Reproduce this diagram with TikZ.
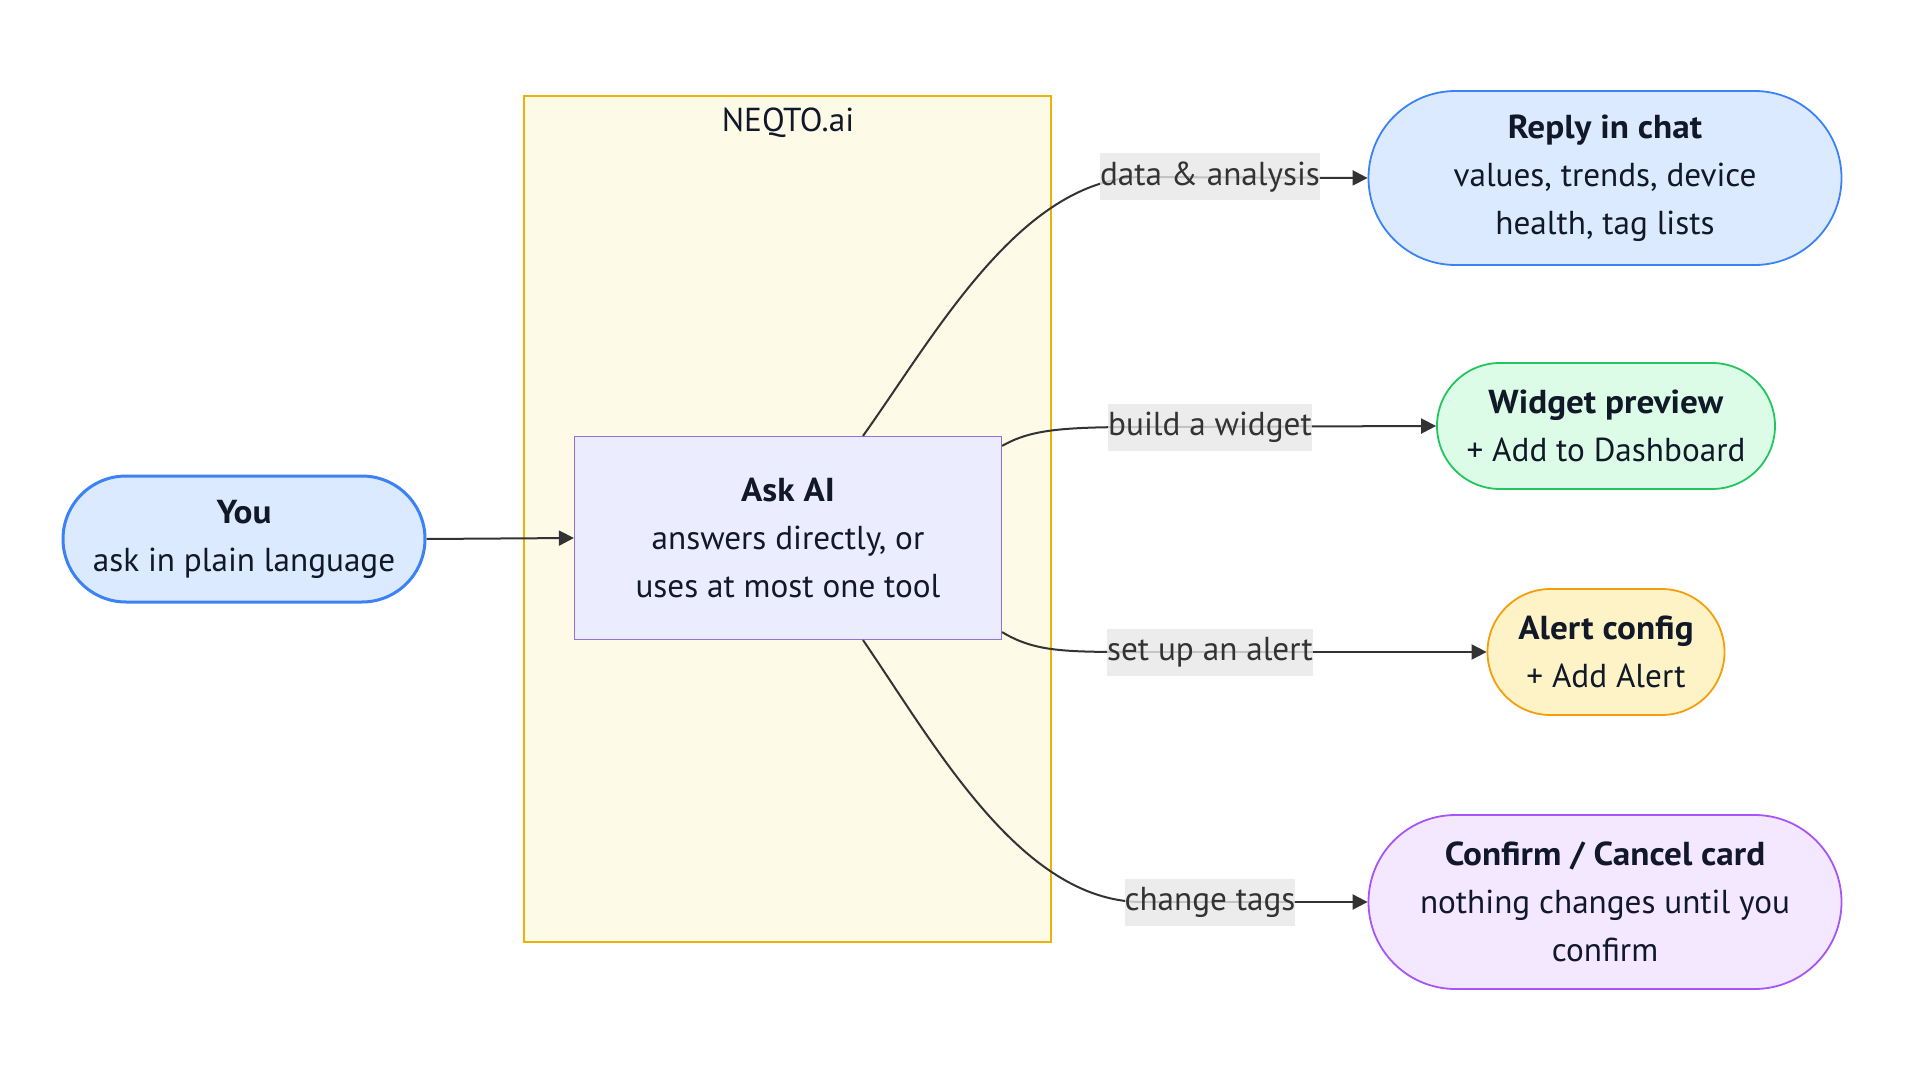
\documentclass[tikz,border=0pt]{standalone}
\usepackage{fontspec}
\setmainfont{PT Sans}[BoldFeatures={FakeStretch=1.06}]
\usetikzlibrary{arrows.meta}
\definecolor{ink}{HTML}{111827}
\definecolor{edgeink}{HTML}{333333}
\definecolor{blueFill}{HTML}{DBEAFE}
\definecolor{blueLine}{HTML}{3B82F6}
\definecolor{greenFill}{HTML}{DCFCE7}
\definecolor{greenLine}{HTML}{22C55E}
\definecolor{amberFill}{HTML}{FEF3C7}
\definecolor{amberLine}{HTML}{F59E0B}
\definecolor{violetFill}{HTML}{F3E8FF}
\definecolor{violetLine}{HTML}{A855F7}
\definecolor{askFill}{HTML}{ECECFF}
\definecolor{askLine}{HTML}{9370DB}
\definecolor{groupFill}{HTML}{FEFAE8}
\definecolor{groupLine}{HTML}{EAB308}
\definecolor{labelFill}{HTML}{E8E8E8}
\tikzset{
  txt/.style={font=\fontsize{16.6}{24}\selectfont, text=ink, align=center},
  stadium/.style={txt, inner sep=0pt, rounded corners=#1},
  askbox/.style={txt, draw=askLine, fill=askFill, line width=0.6pt, inner sep=0pt},
  edgelabel/.style={font=\fontsize{16.6}{24}\selectfont, text=edgeink, fill=labelFill,
    fill opacity=0.8, text opacity=1, inner xsep=0pt, inner ysep=0pt,
    minimum height=23.5pt},
  flow/.style={draw=edgeink, line width=1pt, -{Triangle[length=7.5pt,width=7.5pt]}},
  link/.style={draw=edgeink, line width=1pt},
}
\begin{document}
\begin{tikzpicture}[x=0.5pt, y=-0.5pt]
\useasboundingbox[fill=white] (0,0) rectangle (1908,1086);

% platform group
\draw[fill=groupFill, draw=groupLine, line width=1pt] (524,96) rectangle (1051,942);
\node[txt, anchor=center] (grouptitle) at (788,123) {NEQTO.ai};

% nodes
\node[stadium=31.5pt, draw=blueLine, fill=blueFill, line width=1.5pt,
  minimum width=181pt, minimum height=63pt] (you) at (244,539)
  {\textbf{You}\\ask in plain language};
\node[askbox, minimum width=213.5pt, minimum height=101.5pt] (ask) at (788,538)
  {\textbf{Ask AI}\\answers directly, or\\uses at most one tool};
\node[stadium=43.5pt, draw=blueLine, fill=blueFill, line width=0.9pt,
  minimum width=236.5pt, minimum height=87pt] (reply) at (1605,178)
  {\textbf{Reply in chat}\\values, trends, device\\health, tag lists};
\node[stadium=31.5pt, draw=greenLine, fill=greenFill, line width=0.9pt,
  minimum width=169pt, minimum height=63pt] (widget) at (1606,426)
  {\textbf{Widget preview}\\+ Add to Dashboard};
\node[stadium=31.5pt, draw=amberLine, fill=amberFill, line width=0.9pt,
  minimum width=118.5pt, minimum height=63pt] (alert) at (1606,652)
  {\textbf{Alert config}\\+ Add Alert};
\node[stadium=43.5pt, draw=violetLine, fill=violetFill, line width=0.9pt,
  minimum width=236.5pt, minimum height=87pt] (confirm) at (1605,902)
  {\textbf{Confirm / Cancel card}\\nothing changes until you\\confirm};

% connectors
\draw[flow] (you.east) -- (ask.west);

\coordinate (dataJoin) at (1140,177);
\coordinate (widgetJoin) at (1140,427);
\coordinate (alertJoin) at (1140,652);
\coordinate (tagsJoin) at (1140,902);

\draw[link] (ask.north) ++(75,0) coordinate (askTop)
  .. controls (935,335) and (1020,180) .. (dataJoin);
\draw[flow] (dataJoin) -- (reply.west);

\draw[link] (ask.north east) ++(0,10) coordinate (askUpper)
  .. controls (1030,430) and (1060,427) .. (widgetJoin);
\draw[flow] (widgetJoin) -- (widget.west);

\draw[link] (ask.south east) ++(0,-8) coordinate (askLower)
  .. controls (1035,652) and (1065,652) .. (alertJoin);
\draw[flow] (alertJoin) -- (alert.west);

\draw[link] (ask.south) ++(75,0) coordinate (askBottom)
  .. controls (935,745) and (1020,900) .. (tagsJoin);
\draw[flow] (tagsJoin) -- (confirm.west);

% edge labels
\node[edgelabel] (lblData) at (1210,177) {data \& analysis};
\node[edgelabel] (lblWidget) at (1210,427) {build a widget};
\node[edgelabel] (lblAlert) at (1210,652) {set up an alert};
\node[edgelabel] (lblTags) at (1210,902) {change tags};
\end{tikzpicture}
\end{document}
